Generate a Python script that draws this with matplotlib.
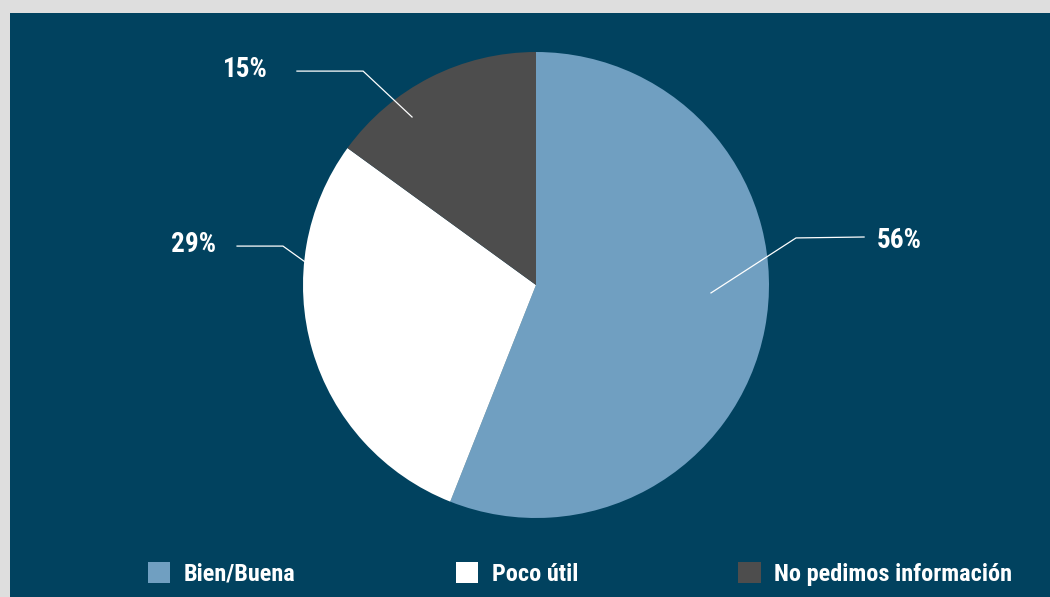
import matplotlib
matplotlib.use("Agg")
import matplotlib.pyplot as plt
from matplotlib.patches import Rectangle, Patch

# Survey answers
categories = ["Bien/Buena", "Poco útil", "No pedimos información"]
shares = [56, 29, 15]
colors = ["#709fc1", "#ffffff", "#4d4d4d"]

BG = "#01425f"
FRAME = "#dedede"
FONT = ["Roboto Condensed", "Liberation Sans Narrow", "DejaVu Sans"]

W, H, DPI = 1050, 597, 100
fig = plt.figure(figsize=(W / DPI, H / DPI), dpi=DPI, facecolor=FRAME)

# dark panel inside the light frame
fig.patches.append(Rectangle((10 / W, 0), 1 - 10 / W, 1 - 13 / H,
                             transform=fig.transFigure, facecolor=BG,
                             edgecolor="none", zorder=-5))

cx, cy, r = 536, 285, 233
ax = fig.add_axes([(cx - r) / W, (H - cy - r) / H, 2 * r / W, 2 * r / H])
ax.set_zorder(2)
ax.set_facecolor("none")
ax.pie(shares, colors=colors, startangle=90, counterclock=False,
       radius=1.0, wedgeprops=dict(linewidth=0))
ax.set_xlim(-1, 1)
ax.set_ylim(-1, 1)
ax.set_aspect("equal")
ax.axis("off")

# leader lines: (anchor in slice, elbow, end), label position, alignment
leaders = [
    ((0.751, -0.034), (1.116, 0.202), (1.408, 0.206), (1.462, 0.192), "left"),
    ((-0.991, 0.099), (-1.086, 0.167), (-1.283, 0.167), (-1.375, 0.175), "right"),
    ((-0.532, 0.721), (-0.742, 0.918), (-1.026, 0.918), (-1.152, 0.926), "right"),
]
for val, (a, e, b, lp, ha) in zip(shares, leaders):
    ax.plot([a[0], e[0], b[0]], [a[1], e[1], b[1]], color="white",
            lw=0.9, clip_on=False, solid_joinstyle="miter")
    ax.text(lp[0], lp[1], f"{val}%", ha=ha, va="center", color="white",
            fontsize=19.5, fontweight="bold", fontstretch="condensed",
            family=FONT, clip_on=False)

handles = [Patch(facecolor=c, edgecolor="none") for c in colors]
leg = fig.legend(handles, categories, loc="center left",
                 bbox_to_anchor=(148 / W, (H - 574) / H), ncol=3,
                 frameon=False, handlelength=0.92, handleheight=0.92,
                 handletextpad=0.55, columnspacing=6.6, borderaxespad=0,
                 borderpad=0,
                 prop=dict(family=FONT, size=17.5, weight="bold",
                           stretch="condensed"))
for t in leg.get_texts():
    t.set_color("white")

fig.savefig("out.png", dpi=DPI, facecolor=FRAME)
